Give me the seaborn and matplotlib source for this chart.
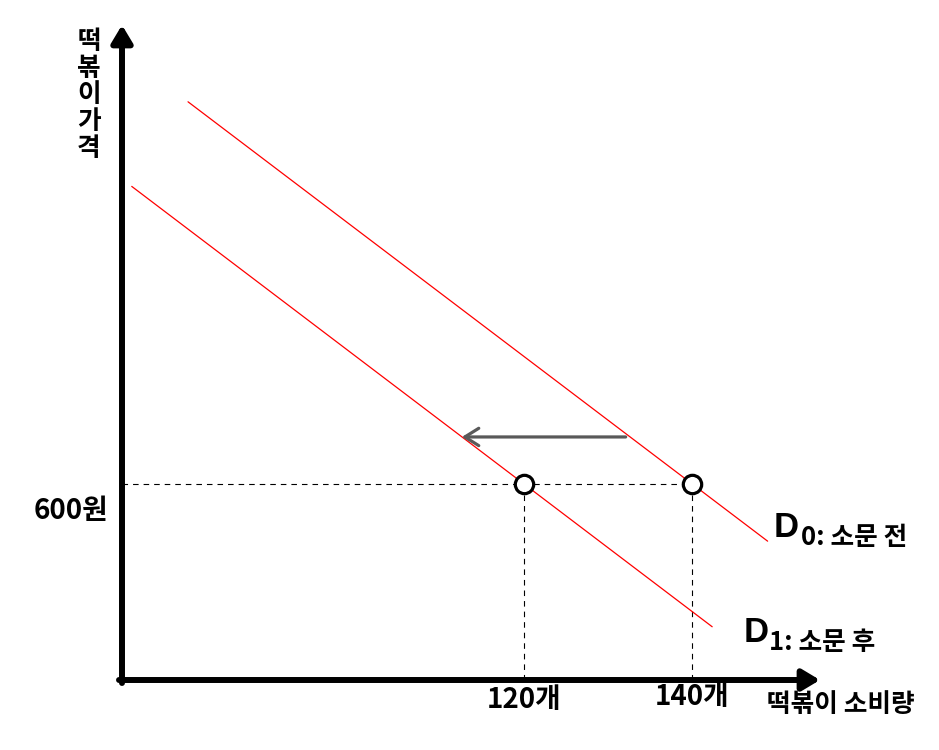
import numpy as np
import pandas as pd
import matplotlib
matplotlib.use("Agg")
import matplotlib.pyplot as plt
import seaborn as sns

# ---- data ----
curves = ["D0", "D1"]
d0_q = [80.0, 149.0]
d0_p = [1770.0, 425.0]
d1_q = [73.3, 142.4]
d1_p = [1511.0, 163.0]
eq_q = [120, 140]
eq_p = [600, 600]
q_tick_labels = ["120개", "140개"]
price_level = 600
price_label = "600원"
shift_from_q = 132.1
shift_to_q = 112.6
shift_p = 744.0
x_label = "떡볶이 소비량"
y_label = "떡볶이가격"
d0_name = ("D", "0: 소문 전")
d1_name = ("D", "1: 소문 후")

sns.set_theme(style="white")
plt.rcParams["font.family"] = ["Noto Sans CJK KR", "DejaVu Sans"]

W, H = 939, 750
# pixel <-> data mapping (layout)
Q_AXIS = 72.14
PX_Q = 8.4          # pixels per quantity unit
PX_P = 0.32667      # pixels per price unit
AX_PX, AX_PY = 122, 680

def p2d(px, py):
    return (Q_AXIS + (px - AX_PX) / PX_Q, (AX_PY - py) / PX_P)

fig = plt.figure(figsize=(W / 100, H / 100), dpi=100)
ax = fig.add_axes([0, 0, 1, 1])
x0, y1 = p2d(0, 0)
x1, y0 = p2d(W, H)
ax.set_xlim(x0, x1)
ax.set_ylim(y0, y1)
ax.axis("off")

# demand curves
df = pd.DataFrame({
    "q": d0_q + d1_q,
    "p": d0_p + d1_p,
    "curve": [curves[0]] * 2 + [curves[1]] * 2,
})
sns.lineplot(data=df, x="q", y="p", hue="curve", palette=["#ff0000", "#ff0000"],
             legend=False, lw=0.9, ax=ax, zorder=2)

# axes with arrows
ax_top = p2d(0, 25)[1]
ax_right = p2d(820, 0)[0]
ax_bottom = p2d(0, 683)[1]
ax_left = p2d(119, 0)[0]
astyle = "-|>,head_length=0.75,head_width=0.45"
ax.annotate("", xy=(Q_AXIS, ax_top), xytext=(Q_AXIS, ax_bottom),
            arrowprops=dict(arrowstyle=astyle, lw=4.3, color="black",
                            mutation_scale=14, shrinkA=0, shrinkB=0), zorder=5)
ax.annotate("", xy=(ax_right, 0), xytext=(ax_left, 0),
            arrowprops=dict(arrowstyle=astyle, lw=4.3, color="black",
                            mutation_scale=14, shrinkA=0, shrinkB=0), zorder=5)

# dashed guides
dash = (0, (5, 4.5))
ax.plot([Q_AXIS, max(eq_q)], [price_level, price_level], color="black", lw=0.8,
        linestyle=dash, zorder=1)
for q in eq_q:
    ax.plot([q, q], [0, price_level], color="black", lw=0.8, linestyle=dash, zorder=1)

# equilibrium points
sns.scatterplot(x=eq_q, y=eq_p, s=175, facecolor="white", edgecolor="black",
                linewidth=2.3, ax=ax, zorder=6)

# shift arrow
ax.annotate("", xy=(shift_to_q, shift_p), xytext=(shift_from_q, shift_p),
            arrowprops=dict(arrowstyle="->,head_length=0.4,head_width=0.25",
                            lw=2.3, color="#595959", mutation_scale=25,
                            shrinkA=0, shrinkB=0), zorder=4)

# texts
bold = dict(fontweight="bold", color="black")
latin = ["Liberation Sans", "Noto Sans CJK KR"]
ax.text(*p2d(108, 511), price_label, ha="right", va="center", fontsize=20, **bold)
ax.text(eq_q[0], p2d(0, 700)[1], q_tick_labels[0], ha="center", va="center",
        fontsize=20, **bold)
ax.text(eq_q[1], p2d(0, 697)[1], q_tick_labels[1], ha="center", va="center",
        fontsize=20, **bold)
ax.text(*p2d(841, 705), x_label, ha="center", va="center", fontsize=18.5, **bold)
ax.text(*p2d(89, 95), "\n".join(y_label), ha="center", va="center",
        fontsize=18.5, linespacing=0.98, **bold)

ax.text(*p2d(774, 537), d0_name[0], ha="left", va="baseline", fontsize=25,
        family=latin, **bold)
ax.text(*p2d(801, 545), d0_name[1], ha="left", va="baseline", fontsize=18.5, **bold)
ax.text(*p2d(744, 642), d1_name[0], ha="left", va="baseline", fontsize=25,
        family=latin, **bold)
ax.text(*p2d(769, 650), d1_name[1], ha="left", va="baseline", fontsize=18.5, **bold)

fig.savefig("out.png", dpi=100, facecolor="white")
